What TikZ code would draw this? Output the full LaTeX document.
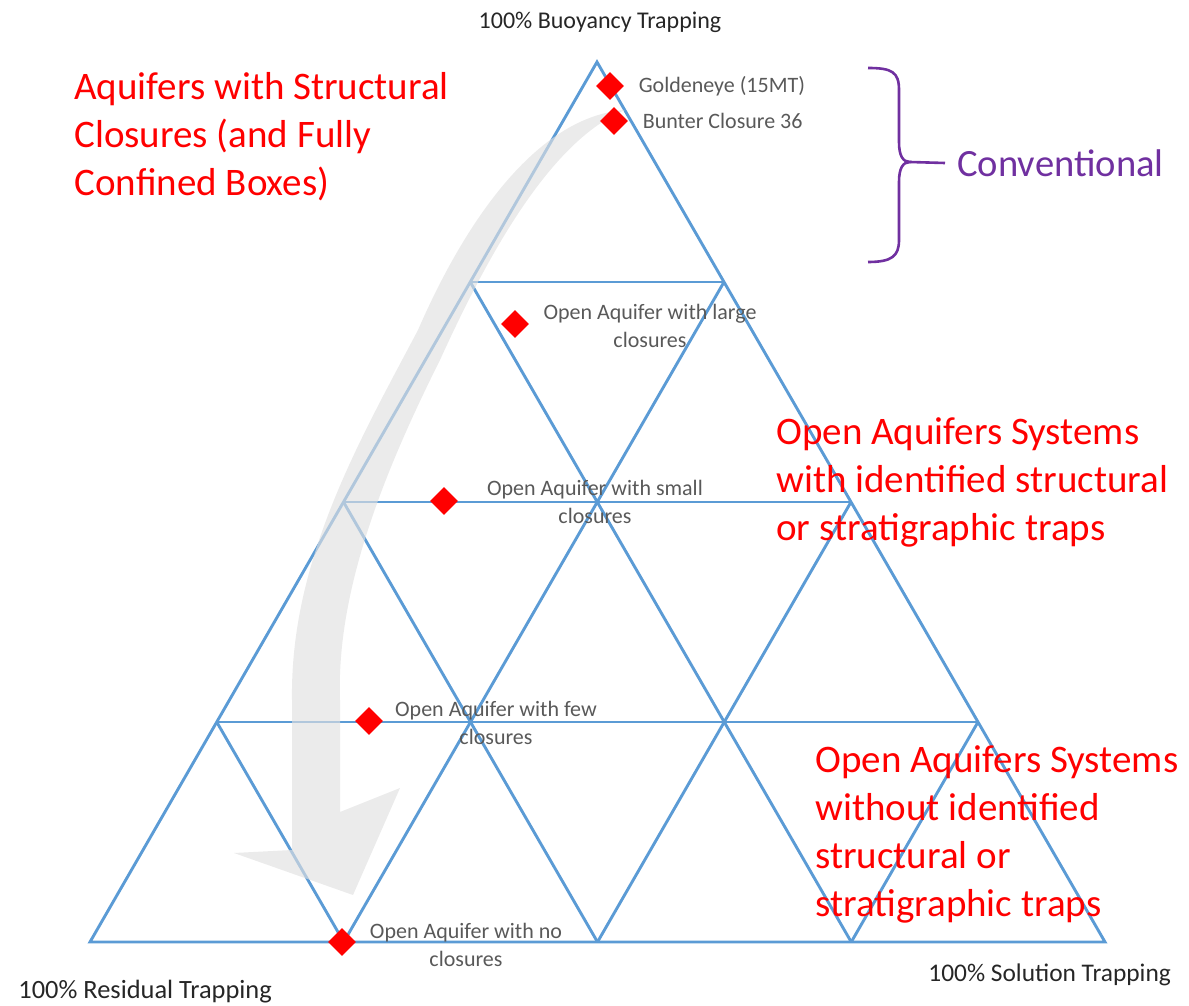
\documentclass[tikz,border=0pt]{standalone}
\usepackage{fontspec}
\setmainfont{Carlito}
\usetikzlibrary{calc,shapes.geometric,positioning}
\definecolor{gridblue}{RGB}{91,155,213}
\definecolor{convpurple}{RGB}{112,48,160}
\definecolor{labelgray}{RGB}{89,89,89}
\tikzset{
  grid line/.style={draw=gridblue, line width=1.45pt},
  site/.style={diamond, fill=red, inner sep=0pt, minimum size=14pt},
  site label/.style={text=labelgray, font=\fontsize{11}{14}\selectfont, inner sep=0pt, align=center},
  corner label/.style={text=black!85, inner sep=0pt},
  class label/.style={text=red, font=\fontsize{19.5}{24}\selectfont, inner sep=0pt, align=left, anchor=west},
}

\begin{document}
\begin{tikzpicture}[x=0.5pt, y=-0.5pt]
  \useasboundingbox (0,0) rectangle (1189,1006);
  % corners of the ternary plot
  \coordinate (A) at (597,62);
  \coordinate (L) at (90,942);
  \coordinate (R) at (1105,942);
  \foreach \i in {1,2,3} {
    \coordinate (l\i) at ($(A)!\i/4!(L)$);
    \coordinate (r\i) at ($(A)!\i/4!(R)$);
    \coordinate (b\i) at ($(L)!\i/4!(R)$);
  }
  \draw[grid line, line join=miter] (A) -- (L) -- (R) -- cycle;
  \foreach \i/\j in {1/3,2/2,3/1} {
    \draw[grid line] (l\i) -- (r\i);
    \draw[grid line] (l\i) -- (b\j);
    \draw[grid line] (r\i) -- (b\i);
  }

  % faded trend arrow
  \fill[black!12, opacity=0.65]
    (625,110) .. controls (540,116) and (468,215) .. (418,330)
    .. controls (360,440) and (290,560) .. (292,700)
    -- (292,850) -- (234,853) -- (353,895) -- (400,788) -- (340,812)
    -- (340,700) .. controls (336,590) and (385,470) .. (440,360)
    .. controls (490,250) and (552,140) .. (625,110) -- cycle;

  % corner labels
  \node[corner label, font=\fontsize{12}{14}\selectfont] (buoy) at (600,22) {100\% Buoyancy Trapping};
  \node[corner label, font=\fontsize{13.2}{15}\selectfont, anchor=west] (resid) at (18,992) {100\% Residual Trapping};
  \node[corner label, font=\fontsize{12.7}{15}\selectfont, anchor=west] (solut) at (928,975) {100\% Solution Trapping};

  % storage sites
  \node[site] (gold) at (610,86) {};
  \node[site] (bunter) at (614,121) {};
  \node[site] (large) at (515,324) {};
  \node[site] (small) at (444,501) {};
  \node[site] (few) at (369,721) {};
  \node[site] (none) at (342,942) {};
  \node[site label, anchor=west, right=7pt of gold] (goldtxt) {Goldeneye (15MT)};
  \node[site label, anchor=west, right=7pt of bunter] (buntertxt) {Bunter Closure 36};
  \node[site label] (largetxt) at (650,326) {Open Aquifer with large\\closures};
  \node[site label] (smalltxt) at (595,502) {Open Aquifer with small\\closures};
  \node[site label] (fewtxt) at (496,723) {Open Aquifer with few\\closures};
  \node[site label] (nonetxt) at (466,945) {Open Aquifer with no\\closures};

  % classes
  \node[class label] (closed) at (74,137) {Aquifers with Structural\\Closures (and Fully\\Confined Boxes)};
  \node[class label] (traps) at (776,482) {Open Aquifers Systems\\with identified structural\\or stratigraphic traps};
  \node[class label] (notraps) at (815,834) {Open Aquifers Systems\\without identified\\structural or\\stratigraphic traps};

  % conventional brace
  \node[text=convpurple, font=\fontsize{19.3}{24}\selectfont, inner sep=0pt, anchor=west] (conv) at (957,163) {Conventional};
  \coordinate (convtop) at (868,68);
  \coordinate (convtip) at (910,162);
  \coordinate (convbot) at (868,262);
  \draw[convpurple, line width=1.3pt]
    (convtop) .. controls (892,68) and (899,72) .. (899,90) -- (899,142)
    .. controls (899,156) and (903,162) .. (convtip)
    .. controls (903,162) and (899,168) .. (899,182) -- (899,240)
    .. controls (899,256) and (892,262) .. (convbot);
  \draw[convpurple, line width=1.3pt] (convtip) -- ([xshift=-6pt]conv.west);
\end{tikzpicture}
\end{document}
